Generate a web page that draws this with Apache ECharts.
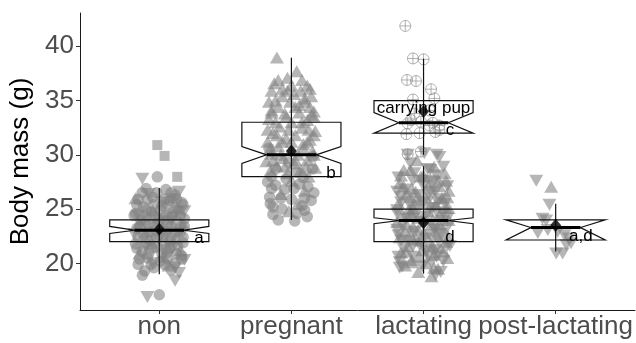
<!DOCTYPE html>
<html>
<head>
<meta charset="utf-8">
<script src="https://cdn.jsdelivr.net/npm/echarts@6/dist/echarts.min.js"></script>
<style>html,body{margin:0;padding:0;background:#fff}#c{width:636px;height:343px}</style>
</head>
<body>
<div id="c"></div>
<script>
// ---------- data ----------
const categories = ['non', 'pregnant', 'lactating', 'post-lactating'];
const yTicks = [20, 25, 30, 35, 40];

// jittered points: [jitter offset from category, body mass]
const nonCircle = [[-0.015,27.97],[-0.128,18.9],[0.0,17.1],[-0.10,26.9],[0.05,26.8],[0.12,26.3],[-0.16,25.9],[-0.05,26.1],[0.17,25.6],[0.08,25.8],[-0.12,25.2],[0.02,25.3],[0.15,24.9],[-0.18,24.6],[-0.06,24.7],[0.10,24.4],[0.19,24.1],[-0.14,24.0],[0.00,24.0],[-0.08,23.6],[0.06,23.5],[0.16,23.3],[-0.17,23.2],[-0.03,23.0],[0.11,22.9],[-0.12,22.6],[0.03,22.5],[0.18,22.4],[-0.07,22.1],[0.08,22.0],[-0.18,21.8],[0.14,21.6],[-0.02,21.5],[-0.13,21.1],[0.06,21.0],[0.17,20.7],[-0.09,20.5],[0.01,20.2],[0.12,20.0],[-0.16,19.9],[-0.04,19.6],[0.09,19.4],[-0.11,19.3],
  [-0.13,26.5],[-0.02,26.5],[0.09,26.5],[-0.09,25.9],[0.04,25.9],[0.13,25.9],[-0.17,25.4],[-0.04,25.4],[0.07,25.4],[0.18,25.4],[-0.10,24.9],[0.01,24.9],[0.12,24.9],[-0.19,24.4],[-0.03,24.4],[0.05,24.4],[0.16,24.4],[-0.11,23.9],[0.03,23.9],[0.13,23.9],[-0.15,23.4],[-0.04,23.4],[0.09,23.4],[0.19,23.4],[-0.08,22.9],[0.05,22.9],[0.16,22.9],[-0.16,22.4],[-0.02,22.4],[0.09,22.4],[-0.10,21.9],[0.03,21.9],[0.18,21.9],[-0.17,21.4],[-0.05,21.4],[0.08,21.4],[-0.08,20.9],[0.02,20.9],[0.13,20.9],[-0.15,20.4],[0.06,20.4],[0.17,20.4],[-0.06,19.9],[0.04,19.9]];
const nonSquare = [[-0.015,30.9],[0.04,29.9],[0.136,27.97],[0.10,26.0],[-0.10,24.3],[0.05,21.3]];
const nonTriUp = [[-0.18,26.0],[0.13,25.1],[-0.05,24.9],[0.07,24.6],[-0.15,23.7],[0.18,23.6],[0.02,23.3],[-0.10,22.9],[0.12,22.3],[-0.06,21.9],[0.16,21.2],[-0.15,20.9],[0.03,20.6],[0.07,19.8]];
const nonTriDown = [[-0.128,27.8],[0.12,18.4],[-0.09,16.9],[0.15,26.6],[-0.08,26.4],[0.02,25.6],[0.19,24.8],[-0.16,24.4],[0.09,23.9],[-0.02,23.7],[-0.19,22.7],[0.15,22.8],[0.00,22.2],[-0.10,21.5],[0.10,21.4],[0.19,20.3],[-0.05,20.0],[0.12,19.6],[0.15,19.1]];

const pregTriUp = [[-0.11,38.97],[-0.03,37.1],[0.14,36.1],[-0.07,36.1],[0.10,35.2],[-0.15,34.1],[0.02,35.6],[-0.12,35.0],[0.06,34.6],[0.17,34.0],[-0.05,33.8],[-0.17,33.3],[0.12,33.2],[0.00,33.0],[-0.09,32.6],[0.08,32.5],[0.18,32.2],[-0.14,32.0],[0.03,31.8],[-0.04,31.5],[0.14,31.4],[-0.18,31.2],[0.09,31.0],[-0.10,30.8],[0.00,30.5],[0.16,30.3],[-0.15,30.1],[0.05,30.0],[-0.06,29.7],[0.12,29.5],[-0.19,29.4],[0.02,29.2],[-0.11,29.0],[0.18,28.8],[0.07,28.6],[-0.03,28.3],[-0.16,28.5],[0.13,28.0],[0.00,27.6],[0.10,26.7],[-0.08,26.4],[0.05,25.5],[-0.02,24.8],[0.15,33.7],[-0.13,36.6],[0.04,37.7],
  [-0.10,36.9],[0.08,36.9],[0.00,36.4],[0.12,36.4],[-0.15,35.9],[-0.03,35.9],[0.07,35.9],[0.15,35.4],[-0.07,35.4],[-0.01,34.9],[0.10,34.9],[-0.17,34.9],[-0.10,34.4],[0.03,34.4],[0.14,34.4],[-0.15,33.9],[0.06,33.9],[-0.04,33.5],[0.17,33.5],[-0.12,33.0],[0.08,33.0],[-0.02,32.3],[0.13,32.3],[-0.18,32.3],[-0.11,31.8],[0.17,31.8],[0.00,31.2],[0.12,31.2],[-0.07,31.2],[-0.16,30.6],[0.09,30.6],[-0.08,30.0],[0.17,30.0],[0.03,29.5],[-0.14,29.5],[0.11,28.9],[-0.05,28.9]];
const pregCircle = [[-0.15,28.0],[-0.165,26.1],[-0.14,25.2],[0.125,27.05],[0.15,25.8],[0.10,24.9],[-0.10,24.0],[0.025,23.9],[-0.05,26.8],[0.06,27.3],[-0.12,27.2],[0.17,26.5],[-0.18,27.5],[0.00,25.9],[-0.07,25.0],[0.08,25.3],[-0.14,24.5],[0.12,24.3],[0.04,28.4],[-0.02,29.3],[0.16,29.8],[-0.17,30.6],[0.09,27.9],
  [-0.12,28.7],[0.16,28.7],[-0.04,27.8],[0.02,26.9],[-0.15,26.9],[0.10,26.0],[-0.08,26.0],[-0.16,25.5],[0.04,24.6]];

const lactTriUp = [[-0.05,29.5],[0.08,28.9],[-0.15,28.6],[0.16,28.3],[-0.02,28.0],[0.11,27.7],[-0.18,27.4],[0.04,27.2],[-0.09,26.9],[0.19,26.7],[-0.13,26.4],[0.01,26.2],[0.14,26.0],[-0.06,25.8],[-0.19,25.5],[0.09,25.4],[0.17,25.1],[-0.11,25.0],[0.03,24.8],[-0.16,24.5],[0.12,24.4],[-0.03,24.2],[0.19,24.0],[-0.20,23.8],[0.06,23.6],[-0.08,23.4],[0.15,23.2],[-0.14,23.0],[0.00,22.8],[0.10,22.6],[-0.18,22.4],[-0.05,22.2],[0.17,22.0],[0.05,21.8],[-0.12,21.6],[0.13,21.4],[-0.01,21.2],[-0.17,21.0],[0.08,20.8],[0.18,20.5],[-0.09,20.3],[0.02,20.0],[-0.14,19.8],[0.11,19.5],[-0.04,19.2],[0.06,18.8],
  [-0.10,28.6],[-0.17,28.1],[0.00,28.1],[0.17,27.6],[-0.15,27.1],[0.12,27.1],[-0.06,26.6],[-0.10,26.1],[0.18,26.1],[-0.03,25.6],[-0.08,25.1],[0.19,25.1],[-0.10,24.6],[0.07,24.1],[-0.13,23.6],[0.12,23.6],[-0.04,23.1],[-0.10,22.6],[0.18,22.6],[-0.02,22.1],[0.07,21.6],[-0.13,21.1],[0.15,21.1],[-0.03,20.6],[-0.09,20.1],[0.08,19.6]];
const lactTriDown = [[-0.12,30.0],[0.006,30.15],[0.10,30.0],[0.12,29.8],[-0.16,19.7],[0.09,18.9],[-0.10,29.2],[0.03,28.7],[0.15,28.9],[-0.07,28.3],[-0.19,27.9],[0.08,27.5],[-0.01,27.6],[0.18,27.1],[-0.14,26.8],[0.05,26.6],[-0.04,26.3],[0.12,25.9],[-0.17,26.1],[0.00,25.6],[-0.10,25.3],[0.16,25.5],[0.07,25.1],[-0.20,24.9],[-0.06,24.6],[0.10,24.7],[0.02,24.3],[-0.13,24.1],[0.14,23.9],[-0.02,23.8],[0.19,23.5],[-0.16,23.5],[0.08,23.1],[-0.07,22.9],[-0.19,22.6],[0.13,22.7],[0.02,22.3],[-0.11,22.0],[0.18,21.6],[-0.03,21.7],[0.09,21.2],[-0.15,21.3],[0.04,20.7],[-0.08,20.6],[0.15,20.2],[-0.18,20.1],[-0.01,19.7],[0.13,19.2],
  [0.05,28.6],[0.10,28.1],[-0.08,27.6],[0.05,27.6],[0.00,27.1],[-0.20,26.6],[0.09,26.6],[0.05,26.1],[-0.17,25.6],[0.11,25.6],[0.05,25.1],[-0.20,24.6],[0.15,24.6],[-0.08,24.1],[0.18,24.1],[0.00,23.6],[-0.20,23.1],[0.09,23.1],[0.05,22.6],[-0.17,22.1],[0.11,22.1],[-0.08,21.6],[0.20,21.6],[0.02,21.1],[-0.19,20.6],[0.10,20.6],[0.06,20.1],[-0.18,19.6]];
const lactPup = [[-0.138,41.88],[-0.08,38.88],[0.0,38.8],[-0.125,36.9],[-0.057,36.8],[0.057,36.05],[0.082,35.2],[-0.08,35.1],[-0.095,33.2],[-0.02,33.04],[0.07,32.95],[0.12,32.7],[0.12,32.3],[-0.13,31.9],[-0.03,32.0],[0.09,32.1],[-0.12,32.9],[0.044,32.7],[-0.07,33.8],[0.044,34.1],[-0.12,30.06],[-0.02,30.3]];

const postTriDown = [[-0.147,27.6],[-0.047,25.4],[-0.10,24.1],[-0.072,23.95],[-0.135,22.8],[-0.06,23.07],[0.066,22.6],[0.10,22.3],[0.116,21.85],[0.08,21.7],[0.004,20.9],[0.053,20.9],[0.015,22.9]];
const postTriUp = [[-0.034,27.05]];

// box statistics (lactating split into not carrying / carrying pup)
const boxX          = [1, 2, 3, 3, 4];
const boxLower      = [22.0, 28.0, 22.0, 32.0, 22.15];
const boxNotchLower = [22.75, 29.2, 23.65, 32.0, 22.15];
const boxMedian     = [23.05, 30.0, 23.95, 32.95, 23.3];
const boxNotchUpper = [23.4, 30.75, 24.2, 33.9, 24.0];
const boxUpper      = [24.0, 33.0, 25.0, 35.0, 24.0];
const whiskerLow    = [19.0, 24.0, 19.05, 30.0, 21.1];
const whiskerHigh   = [26.95, 38.95, 28.95, 38.85, 25.5];
const meanValues    = [23.13, 30.35, 23.75, 34.0, 23.5];

const letterX    = [1.3, 2.3, 3.2, 3.2, 4.19, 3.0];
const letterY    = [22.3, 28.3, 32.27, 22.4, 22.45, 34.3];
const letterText = ['a', 'b', 'c', 'd', 'a,d', 'carrying pup'];

// ---------- chart ----------
const FONT = '"Liberation Sans", Arial, Helvetica, sans-serif';
const PT = 'rgba(128,128,128,0.72)';
const toPts = (arr, cat) => arr.map(d => [cat + d[0], d[1]]);

const circleData = [].concat(toPts(nonCircle, 1), toPts(pregCircle, 2));
const squareData = toPts(nonSquare, 1);
const upData = [].concat(toPts(nonTriUp, 1), toPts(pregTriUp, 2), toPts(lactTriUp, 3), toPts(postTriUp, 4));
const downData = [].concat(toPts(nonTriDown, 1), toPts(lactTriDown, 3), toPts(postTriDown, 4));
const pupData = toPts(lactPup, 3);

const boxData = boxX.map((x, i) => [x, boxLower[i], boxNotchLower[i], boxMedian[i], boxNotchUpper[i], boxUpper[i], whiskerLow[i], whiskerHigh[i]]);
const meanData = boxX.map((x, i) => [x, meanValues[i]]);
const textData = letterX.map((x, i) => [x, letterY[i], i]);

const HALF = 0.375, INDENT = 0.1875;

const chart = echarts.init(document.getElementById('c'), null, {renderer: 'canvas'});
chart.setOption({
  animation: false,
  backgroundColor: '#fff',
  grid: {left: 80, right: 0, top: 13, bottom: 33, containLabel: false},
  xAxis: {
    type: 'value', min: 0.4, max: 4.6,
    splitLine: {show: false},
    axisLine: {show: true, onZero: false, lineStyle: {color: '#1a1a1a', width: 1}},
    axisTick: {show: true, customValues: [1, 2, 3, 4], length: 4, lineStyle: {color: '#333', width: 1}},
    axisLabel: {customValues: [1, 2, 3, 4], formatter: v => categories[Math.round(v) - 1], fontSize: 26, color: '#4d4d4d', fontFamily: FONT, margin: 4}
  },
  yAxis: {
    type: 'value', min: 15.7, max: 43.07,
    name: 'Body mass (g)', nameLocation: 'middle', nameGap: 42,
    nameTextStyle: {fontSize: 26, color: '#000', fontFamily: FONT},
    splitLine: {show: false},
    axisLine: {show: true, onZero: false, lineStyle: {color: '#1a1a1a', width: 1}},
    axisTick: {show: true, customValues: yTicks, length: 4, lineStyle: {color: '#333', width: 1}},
    axisLabel: {customValues: yTicks, fontSize: 26, color: '#4d4d4d', fontFamily: FONT, margin: 6}
  },
  series: [
    {type: 'scatter', data: circleData, symbol: 'circle', symbolSize: 11.5, itemStyle: {color: PT}, z: 2},
    {type: 'scatter', data: squareData, symbol: 'rect', symbolSize: 10, itemStyle: {color: PT}, z: 2},
    {type: 'scatter', data: upData, symbol: 'triangle', symbolSize: [14, 12], itemStyle: {color: PT}, z: 2},
    {type: 'scatter', data: downData, symbol: 'triangle', symbolRotate: 180, symbolSize: [14, 12], itemStyle: {color: PT}, z: 2},
    {type: 'scatter', data: pupData,
     symbol: 'path://M10,0A10,10,0,1,1,10,20A10,10,0,1,1,10,0ZM10,0L10,20M0,10L20,10',
     symbolSize: 11, itemStyle: {color: 'rgba(0,0,0,0)', borderColor: 'rgba(128,128,128,0.75)', borderWidth: 1}, z: 2},
    {
      type: 'custom', data: boxData, z: 3,
      renderItem: (params, api) => {
        const x = api.value(0);
        const lo = api.value(1), nl = api.value(2), md = api.value(3), nu = api.value(4), up = api.value(5);
        const wl = api.value(6), wh = api.value(7);
        const c = (a, b) => api.coord([a, b]);
        const pts = [c(x - HALF, up), c(x - HALF, nu), c(x - HALF + INDENT, md), c(x - HALF, nl), c(x - HALF, lo),
                     c(x + HALF, lo), c(x + HALF, nl), c(x + HALF - INDENT, md), c(x + HALF, nu), c(x + HALF, up)];
        const w1 = c(x, wl), w2 = c(x, wh);
        const m1 = c(x - HALF + INDENT, md), m2 = c(x + HALF - INDENT, md);
        return {type: 'group', children: [
          {type: 'line', shape: {x1: w1[0], y1: w1[1], x2: w2[0], y2: w2[1]}, style: {stroke: '#111', lineWidth: 1.2}},
          {type: 'polygon', shape: {points: pts}, style: {fill: 'none', stroke: '#111', lineWidth: 1.2}},
          {type: 'line', shape: {x1: m1[0], y1: m1[1], x2: m2[0], y2: m2[1]}, style: {stroke: '#000', lineWidth: 3}}
        ]};
      }
    },
    {type: 'scatter', data: meanData, symbol: 'diamond', symbolSize: [11, 13], itemStyle: {color: '#000'}, z: 4},
    {
      type: 'custom', data: textData, z: 5,
      renderItem: (params, api) => {
        const p = api.coord([api.value(0), api.value(1)]);
        return {type: 'text', x: p[0], y: p[1], style: {text: letterText[api.value(2)], fill: '#000', font: '17px ' + FONT, align: 'center', verticalAlign: 'middle'}};
      }
    }
  ]
});
</script>
</body>
</html>
